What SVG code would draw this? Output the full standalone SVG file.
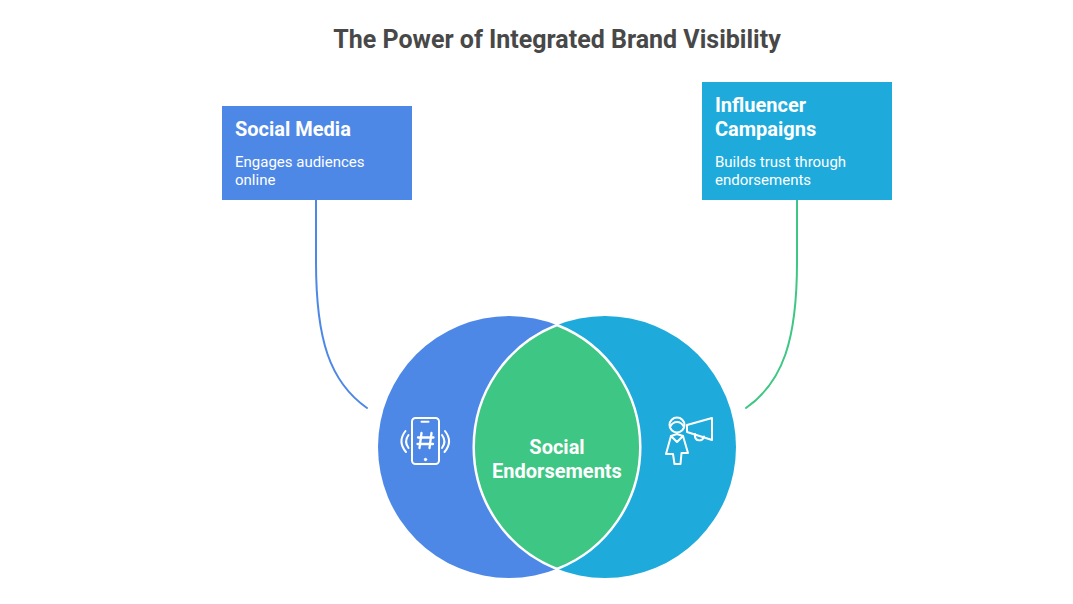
<svg xmlns="http://www.w3.org/2000/svg" width="1073" height="604" viewBox="0 0 1073 604">
<style>
.h{font-family:Roboto,"Liberation Sans",sans-serif;font-weight:700;font-size:20px;fill:#fff}
.b{font-family:Roboto,"Liberation Sans",sans-serif;font-weight:400;font-size:15px;fill:#fff}
.i{fill:none;stroke:#fff;stroke-width:2;stroke-linecap:round;stroke-linejoin:round}
.c{fill:none;stroke-width:2;stroke-linecap:round}
</style>
<rect width="1073" height="604" fill="#fff"/>
<text id="title" x="557" y="48" text-anchor="middle" font-family="Roboto,'Liberation Sans',sans-serif" font-weight="700" font-size="25" fill="#484848">The Power of Integrated Brand Visibility</text>
<g id="connectors">
<path class="c" stroke="#4e88e7" d="M316 200V262C316 340 330 382 367 408"/>
<path class="c" stroke="#3ec684" d="M797 200V262C797 340 783 382 746 408"/>
</g>
<g id="node-social-media">
<rect x="222" y="106" width="190" height="94" fill="#4e88e7"/>
<text class="h" x="235" y="136">Social Media</text>
<text class="b" x="235" y="167">Engages audiences</text>
<text class="b" x="235" y="185">online</text>
</g>
<g id="node-influencer">
<rect x="702" y="82" width="190" height="118" fill="#1eabdc"/>
<text class="h" x="715" y="112">Influencer</text>
<text class="h" x="715" y="136">Campaigns</text>
<text class="b" x="715" y="167">Builds trust through</text>
<text class="b" x="715" y="185">endorsements</text>
</g>
<g id="venn">
<circle cx="509" cy="447" r="131" fill="#4e88e7"/>
<circle cx="605" cy="447" r="131" fill="#1eabdc"/>
<path d="M557 325A131 131 0 0 1 557 569A131 131 0 0 1 557 325Z" fill="#3ec684" stroke="#fff" stroke-width="2.500"/>
</g>
<g id="icon-phone" class="i">
<rect x="412" y="418" width="27" height="46" rx="3.500"/>
<path d="M421.500 421.700H428.500"/>
<path d="M421.500 433 419.500 448M431.500 433 429.500 448M418 437.500H433.500M417.500 444H433" stroke-width="2.300"/>
<circle cx="425.500" cy="459.500" r="1.200" fill="#fff" stroke-width="1"/>
<path d="M405.500 431C400 438 400 445 406 452M408.500 435C405.500 439 405.500 444 408.500 448M445 431C450.500 438 450.500 445 444.500 452M442 435C445 439 445 444 442 448"/>
</g>
<g id="icon-influencer" class="i">
<circle cx="677" cy="425" r="7.500"/>
<path d="M670 427C672 423 675 422 677 422C679 422 682 423 684 427"/>
<path d="M671 436 666 454H673L674.500 464H680.500L681.500 453H688L683 436 677 442Z"/>
<path d="M671 436 677 434 683 436"/>
<path d="M687 425 712 418V440L687 432Z"/>
<path d="M695 434C694 442 703 442 704 436.500"/>
</g>
<g id="label-center" text-anchor="middle">
<text class="h" x="557" y="454">Social</text>
<text class="h" x="557" y="478">Endorsements</text>
</g>
</svg>
